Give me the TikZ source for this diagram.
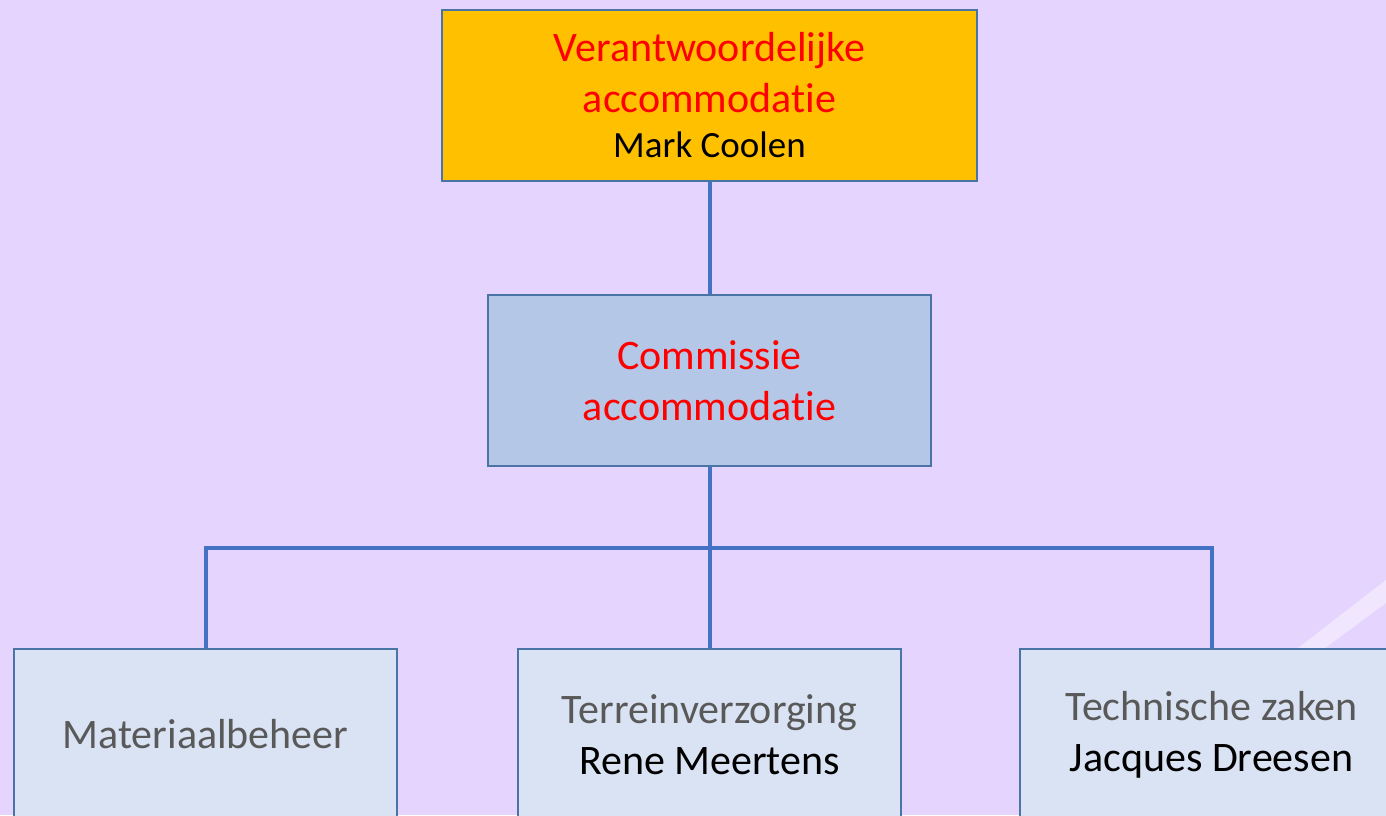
\documentclass[tikz,border=0pt]{standalone}
\usepackage{fontspec}
\setmainfont{Carlito}[Ligatures=CommonOff]
\definecolor{achter}{HTML}{E5D5FE}
\definecolor{oranje}{HTML}{FFC000}
\definecolor{midblauw}{HTML}{B4C7E7}
\definecolor{lichtblauw}{HTML}{DAE3F3}
\definecolor{rand}{HTML}{4A74A6}
\definecolor{lijn}{HTML}{4472C4}
\definecolor{grijs}{HTML}{595959}
\begin{document}
\begin{tikzpicture}[x=0.5pt,y=-0.5pt,
  box/.style={draw=rand,line width=1pt,align=center,inner sep=0pt},
  conn/.style={draw=lijn,line width=2pt},
  groot/.style={font=\fontsize{21}{25.5}\selectfont}]

\useasboundingbox (0,0) rectangle (1386,815);
\clip (0,0) rectangle (1386,815);
\fill[achter] (0,0) rectangle (1386,815);
\fill[white,opacity=.45] (1298,648) -- (1386,580) -- (1386,603) -- (1325,648) -- cycle;

\node[box,groot,fill=oranje,minimum width=267.5pt,minimum height=85.5pt,text=red] (verantw) at (709.5,95.5)
  {Verantwoordelijke\\accommodatie\\[-3pt]
   {\fontsize{18.5}{22}\selectfont\color{black}Mark Coolen}};
\node[box,groot,fill=midblauw,minimum width=221.5pt,minimum height=85.5pt,text=red] (commissie) at (709.5,380.5)
  {Commissie\\accommodatie};

\node[box,groot,fill=lichtblauw,minimum width=191.5pt,minimum height=85.5pt,text=grijs] (materiaal) at (205.5,734.5)
  {Materiaalbeheer};
\node[box,groot,fill=lichtblauw,minimum width=191.5pt,minimum height=85.5pt] (terrein) at (709.5,734.5)
  {\textcolor{grijs}{Terreinverzorging}\\Rene Meertens};
\node[box,groot,fill=lichtblauw,minimum width=191.5pt,minimum height=85.5pt] (techniek) at (1211.5,734.5)
  {\textcolor{grijs}{Technische zaken}\\Jacques Dreesen};

\coordinate (splits) at (709.5,548);
\draw[conn] (verantw.south) -- (commissie.north);
\draw[conn] (commissie.south) -- (splits);
\draw[conn] (materiaal.north) |- (splits) -| (techniek.north);
\draw[conn] (splits) -- (terrein.north);

\end{tikzpicture}
\end{document}
